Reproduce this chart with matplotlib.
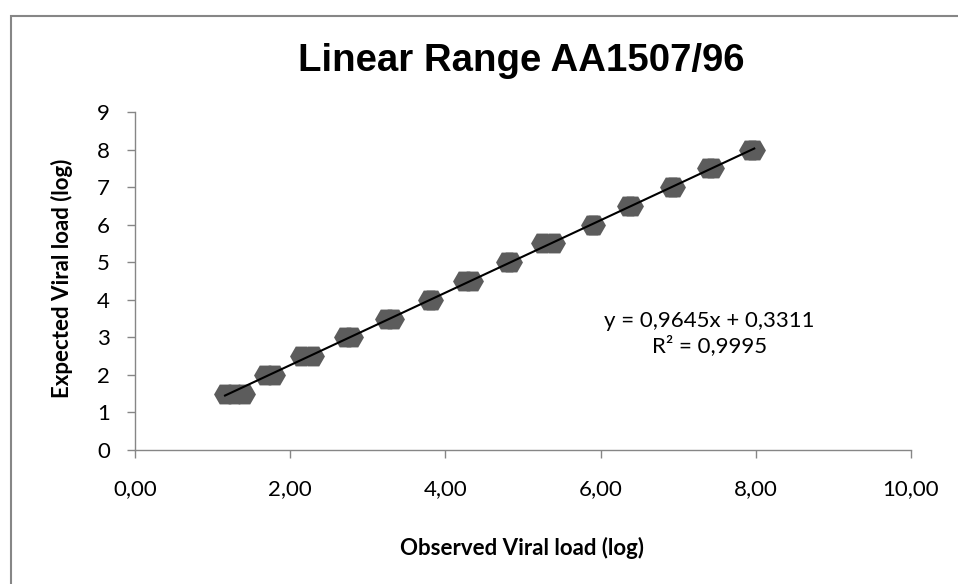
import matplotlib
matplotlib.use('Agg')
import matplotlib.pyplot as plt
from matplotlib.patches import Rectangle
import numpy as np

# expected (log) levels, replicate runs
expected = [1.5, 1.5, 1.5, 2.0, 2.0, 2.5, 2.5, 3.0, 3.0, 3.5, 3.5, 4.0, 4.0, 4.5, 4.5,
            5.0, 5.0, 5.5, 5.5, 6.0, 6.0, 6.5, 6.5, 7.0, 7.0, 7.5, 7.5, 8.0, 8.0]
# observed (log) results
observed = [1.16, 1.28, 1.40, 1.67, 1.79, 2.14, 2.30, 2.70, 2.79, 3.23, 3.32, 3.79, 3.83,
            4.24, 4.34, 4.79, 4.85, 5.24, 5.40, 5.89, 5.91, 6.35, 6.41, 6.91, 6.95,
            7.39, 7.45, 7.92, 7.98]

# linear trendline
slope = 0.9645
intercept = 0.3311
r2 = 0.9995

xticks = [0, 2, 4, 6, 8, 10]
xticklabels = ['0,00', '2,00', '4,00', '6,00', '8,00', '10,00']
yticks = [0, 1, 2, 3, 4, 5, 6, 7, 8, 9]
yticklabels = ['0', '1', '2', '3', '4', '5', '6', '7', '8', '9']

W, H = 958, 584
fig = plt.figure(figsize=(W / 100, H / 100), dpi=100)
ax = fig.add_axes([135 / W, 1 - 450 / H, (911 - 135) / W, (450 - 112) / H])

ax.plot(observed, expected, linestyle='none', marker='H', markersize=16.5,
        markeredgewidth=0, color='#5c5c5c', zorder=2)

xl = np.array([min(observed), max(observed)])
ax.plot(xl, slope * xl + intercept, color='black', linewidth=1.5, zorder=3)

ax.set_xlim(0, 10)
ax.set_ylim(0, 9)
ax.set_xticks(xticks)
ax.set_xticklabels(xticklabels)
ax.set_yticks(yticks)
ax.set_yticklabels(yticklabels)

for side in ['top', 'right']:
    ax.spines[side].set_visible(False)
for side in ['left', 'bottom']:
    ax.spines[side].set_color('#868686')
    ax.spines[side].set_linewidth(1.0)

ax.tick_params(axis='both', colors='#868686', labelcolor='black', length=6, width=1.0,
               labelsize=16)
ax.tick_params(axis='x', pad=15)
ax.tick_params(axis='y', pad=12)
for lab in ax.get_xticklabels() + ax.get_yticklabels():
    lab.set_family('Lato')

eq = 'y = %sx + %s' % (str(slope).replace('.', ','), str(intercept).replace('.', ','))
ax.text(7.4, 3.43, eq, ha='center', va='center', fontsize=16, family='Lato')
ax.text(7.4, 2.77, 'R² = %s' % str(r2).replace('.', ','), ha='center', va='center',
        fontsize=16, family='Lato')

fig.text(521 / W, 1 - 61 / H, 'Linear Range AA1507/96', ha='center', va='center',
         fontsize=27.6, fontweight='bold', family='Liberation Sans')
fig.text(522 / W, 1 - 548 / H, 'Observed Viral load (log)', ha='center', va='center',
         fontsize=16, fontweight='bold', family='Lato')
fig.text(62 / W, 1 - 278 / H, 'Expected Viral load (log)', ha='center', va='center',
         rotation=90, fontsize=16, fontweight='bold', family='Lato')

# chart frame
fig.patches.append(Rectangle((11 / W, -0.05), 1.1, 1 - 16 / H + 0.05, transform=fig.transFigure,
                             fill=False, edgecolor='#868686', linewidth=1.5))

fig.savefig('out.png', dpi=100)
